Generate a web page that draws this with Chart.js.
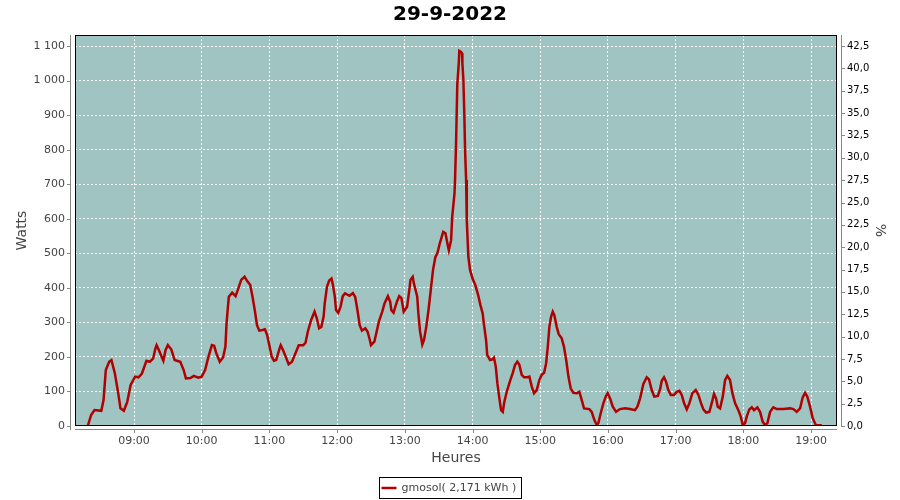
<!DOCTYPE html>
<html>
<head>
<meta charset="utf-8">
<script src="https://cdn.jsdelivr.net/npm/chart.js@4.4.0/dist/chart.umd.min.js"></script>
<style>
  html, body { margin: 0; padding: 0; background: #fff; }
</style>
</head>
<body>
<canvas id="solarChart" width="900" height="500"></canvas>
<script>
// Production solaire du 29-9-2022 (minutes depuis minuit -> Watts)
const minutes = [
  499, 502, 505, 511, 513, 515, 518, 520, 523, 526, 528, 531, 534, 537, 541, 544, 547, 551, 554, 557,
  559, 560, 562, 565, 566, 568, 570, 573, 576, 578, 581, 584, 586, 590, 593, 597, 600, 603, 606, 609,
  611, 613, 616, 619, 621, 622, 624, 627, 630, 632, 635, 638, 640, 643, 645, 647, 649, 651, 654, 656,
  658, 660, 662, 664, 666, 669, 670, 672, 675, 677, 680, 683, 686, 690, 692, 694, 697, 700, 702, 704,
  706, 708, 709, 711, 713, 715, 716, 718, 719, 721, 723, 725, 727, 731, 734, 736, 738, 740, 742, 745,
  747, 749, 750, 753, 755, 757, 760, 762, 765, 767, 768, 770, 773, 775, 777, 779, 782, 784, 785, 787,
  788, 791, 792, 793.5, 795.5, 797, 799, 801, 803, 805, 807, 809, 811, 814, 816, 818, 819, 821, 822, 824,
  824.5, 825.4, 826.5, 827.8, 828.3, 829.8, 830.7, 831, 831.9, 832.7, 833.4, 834.3, 834.9, 836.3, 837.8, 840,
  842.5, 845, 847, 849, 850, 852, 853, 855.5, 857.6, 859, 860.6, 862, 863.8, 865.3, 866.8, 868.2, 870.3, 873,
  875.6, 877.7, 879.7, 881.5, 883.6, 885.7, 888.6, 890.4, 892.5, 894.5, 896.9, 899.2, 901.3, 903.4, 905.2, 906.7,
  908.1, 909.6, 911.1, 912.5, 914.6, 916.4, 919, 921, 923, 925, 927, 929.3, 932.4, 934.7, 936.8, 938.8,
  943.5, 945.6, 948, 950.1, 951.5, 953.6, 956, 958.3, 959.8, 961.9, 964.3, 967.2, 970.7, 975.2, 979.6, 984,
  986.1, 988.5, 991.4, 994.4, 996.4, 998.8, 1001.1, 1004.2, 1006.2, 1007.7, 1009.7, 1011.5, 1013.5, 1015.7, 1018.6, 1021,
  1023.3, 1025.4, 1027.5, 1029.9, 1032.2, 1034.8, 1037.8, 1040.2, 1042.5, 1044.6, 1047, 1049.9, 1052, 1054, 1055.8, 1057.3,
  1059.4, 1061.8, 1063.8, 1065.8, 1068.2, 1070.3, 1072.7, 1075.6, 1077.7, 1079.5, 1081.5, 1083, 1085.3, 1087.5, 1089.5, 1092.4,
  1094.8, 1097.2, 1099.3, 1101.3, 1103.7, 1106.6, 1109.6, 1115.5, 1121.4, 1124.4, 1127.3, 1130.3, 1132.6, 1134.7, 1136.7, 1139.1,
  1141.5, 1144.2, 1149.5
];
const watts = [
  0, 32, 46, 44, 75, 162, 186, 191, 153, 95, 51, 44, 70, 119, 143, 141, 152, 189, 186, 196,
  225, 234, 220, 196, 189, 220, 234, 222, 191, 189, 186, 162, 138, 139, 145, 140, 143, 162, 201, 234,
  232, 210, 186, 199, 230, 297, 374, 386, 376, 394, 423, 432, 421, 408, 374, 336, 292, 276, 278, 280,
  263, 232, 201, 189, 191, 225, 234, 220, 196, 179, 186, 210, 234, 234, 241, 273, 307, 331, 312, 283,
  287, 316, 355, 403, 421, 427, 413, 374, 336, 328, 345, 376, 384, 377, 385, 374, 336, 292, 276, 283,
  273, 249, 234, 244, 273, 302, 331, 355, 376, 360, 336, 328, 360, 376, 370, 331, 345, 394, 423, 432,
  413, 374, 326, 273, 236, 249, 287, 336, 394, 452, 488, 502, 529, 562, 558, 524, 509, 538, 606, 673,
  712, 818, 990, 1050, 1086, 1083, 1079, 1050, 1001, 905, 799, 712, 596, 490, 452, 427,
  408, 379, 350, 326, 297, 249, 206, 191, 193, 198, 172, 124, 80, 46, 41, 70, 99, 128,
  153, 177, 186, 177, 148, 141, 141, 143, 114, 95, 104, 133, 148, 154, 181, 230,
  287, 316, 331, 321, 287, 266, 254, 230, 191, 143, 109, 96, 95, 99, 75, 51,
  49, 41, 17, 3, 8, 37, 66, 87, 95, 80, 56, 41, 49, 51, 49, 46,
  56, 80, 122, 141, 135, 104, 85, 87, 106, 131, 141, 128, 104, 90, 90, 99,
  102, 90, 66, 48, 66, 95, 104, 90, 66, 48, 39, 41, 66, 93, 80, 56,
  51, 85, 133, 145, 133, 95, 66, 46, 27, 3, 8, 27, 48, 54, 46, 54,
  41, 12, 3, 8, 41, 54, 49, 49, 51, 49, 41, 51, 83, 96, 85, 56,
  22, 3, 2
];
const hourTicks = [540, 600, 660, 720, 780, 840, 900, 960, 1020, 1080, 1140];
const wattTicks = [0, 100, 200, 300, 400, 500, 600, 700, 800, 900, 1000, 1100];
const pctTicks = [0, 2.5, 5, 7.5, 10, 12.5, 15, 17.5, 20, 22.5, 25, 27.5, 30, 32.5, 35, 37.5, 40, 42.5];
const seriesLabel = 'gmosol( 2,171 kWh )';
const chartTitle = '29-9-2022';

const wattMax = 1132;
const pctMax = wattMax / 1100 * 42.5;

const pad2 = n => String(n).padStart(2, '0');

// fond du graphique, cadre noir, axes décalés et légende encadrée
const plotFrame = {
  id: 'plotFrame',
  beforeDraw(chart) {
    const { ctx, chartArea: a } = chart;
    ctx.save();
    ctx.fillStyle = '#9fc4c2';
    ctx.fillRect(a.left, a.top, a.right - a.left, a.bottom - a.top);
    ctx.restore();
  },
  afterDraw(chart) {
    const { ctx, chartArea: a, scales } = chart;
    ctx.save();
    ctx.lineWidth = 1;
    ctx.strokeStyle = '#000';
    ctx.strokeRect(a.left + 0.5, a.top + 0.5, a.right - a.left - 1, a.bottom - a.top - 1);

    ctx.strokeStyle = '#888';
    ctx.beginPath();
    // axe gauche
    ctx.moveTo(a.left - 4.5, a.top);
    ctx.lineTo(a.left - 4.5, a.bottom + 4);
    scales.y.ticks.forEach(t => {
      const py = Math.round(scales.y.getPixelForValue(t.value)) + 0.5;
      ctx.moveTo(a.left - 8, py);
      ctx.lineTo(a.left - 4, py);
    });
    // axe droit
    ctx.moveTo(a.right + 4.5, a.top);
    ctx.lineTo(a.right + 4.5, a.bottom);
    scales.y1.ticks.forEach(t => {
      const py = Math.round(scales.y1.getPixelForValue(t.value)) + 0.5;
      ctx.moveTo(a.right + 4, py);
      ctx.lineTo(a.right + 8, py);
    });
    // axe du bas
    ctx.moveTo(a.left, a.bottom + 3.5);
    ctx.lineTo(a.right, a.bottom + 3.5);
    scales.x.ticks.forEach(t => {
      const px = Math.round(scales.x.getPixelForValue(t.value)) + 0.5;
      ctx.moveTo(px, a.bottom + 3);
      ctx.lineTo(px, a.bottom + 7);
    });
    ctx.stroke();

    // légende
    const ds = chart.data.datasets[0];
    ctx.font = '11px "DejaVu Sans"';
    const tw = ctx.measureText(ds.label).width;
    const w = Math.round(tw + 27);
    const x0 = Math.round(450 - w / 2) + 0.5;
    const y0 = 477.5, h = 21;
    ctx.strokeStyle = '#000';
    ctx.lineWidth = 1;
    ctx.strokeRect(x0, y0, w, h);
    ctx.strokeStyle = ds.borderColor;
    ctx.lineWidth = 2.5;
    ctx.beginPath();
    ctx.moveTo(x0 + 2, y0 + h / 2);
    ctx.lineTo(x0 + 17, y0 + h / 2);
    ctx.stroke();
    ctx.fillStyle = '#444';
    ctx.textBaseline = 'middle';
    ctx.fillText(ds.label, x0 + 22, y0 + h / 2 + 0.5);
    ctx.restore();
  }
};

const ctx = document.getElementById('solarChart').getContext('2d');
const solarChart = new Chart(ctx, {
  type: 'line',
  data: {
    datasets: [{
      label: seriesLabel,
      data: minutes.map((m, i) => ({ x: m, y: watts[i] })),
      borderColor: '#b00000',
      borderWidth: 2.5,
      pointRadius: 0,
      tension: 0,
      fill: false,
      yAxisID: 'y'
    }]
  },
  options: {
    responsive: false,
    animation: false,
    layout: { padding: { left: 0, right: 0, top: 0, bottom: 30 } },
    plugins: {
      legend: { display: false },
      tooltip: { enabled: false },
      title: {
        display: true,
        text: chartTitle,
        color: '#000',
        font: { family: 'DejaVu Sans', size: 20, weight: 'bold' },
        padding: { top: 3, bottom: 8 }
      }
    },
    scales: {
      x: {
        type: 'linear',
        min: 487.7,
        max: 1163,
        afterBuildTicks: s => { s.ticks = hourTicks.map(v => ({ value: v })); },
        afterFit: s => { s.height = 44; },
        grid: { color: '#fff', lineWidth: 1, drawTicks: false },
        border: { display: false, dash: [2, 2] },
        ticks: {
          padding: 9,
          color: '#444',
          font: { family: 'DejaVu Sans', size: 11 },
          maxRotation: 0,
          callback: v => pad2(Math.floor(v / 60)) + ':' + pad2(v % 60)
        },
        title: {
          display: true,
          text: 'Heures',
          color: '#444',
          font: { family: 'DejaVu Sans', size: 14 },
          padding: { top: 0, bottom: 3 }
        }
      },
      y: {
        position: 'left',
        min: 0,
        max: wattMax,
        afterBuildTicks: s => { s.ticks = wattTicks.map(v => ({ value: v })); },
        afterFit: s => { s.width = 75; },
        grid: { color: '#fff', lineWidth: 1, drawTicks: false },
        border: { display: false, dash: [2, 2] },
        ticks: {
          padding: 10,
          color: '#444',
          font: { family: 'DejaVu Sans', size: 11 },
          callback: v => v >= 1000 ? Math.floor(v / 1000) + ' ' + String(v % 1000).padStart(3, '0') : String(v)
        },
        title: {
          display: true,
          text: 'Watts',
          color: '#444',
          font: { family: 'DejaVu Sans', size: 14 },
          padding: { top: 14, bottom: 0 }
        }
      },
      y1: {
        position: 'right',
        min: 0,
        max: pctMax,
        afterBuildTicks: s => { s.ticks = pctTicks.map(v => ({ value: v })); },
        afterFit: s => { s.width = 63; },
        grid: { display: false, drawTicks: false },
        border: { display: false },
        ticks: {
          padding: 10,
          color: '#000',
          font: { family: 'DejaVu Sans', size: 10 },
          callback: v => v.toFixed(1).replace('.', ',')
        },
        title: {
          display: true,
          text: '%',
          color: '#444',
          font: { family: 'DejaVu Sans', size: 14 },
          padding: { top: 12, bottom: 0 }
        }
      }
    }
  },
  plugins: [plotFrame]
});
</script>
</body>
</html>
